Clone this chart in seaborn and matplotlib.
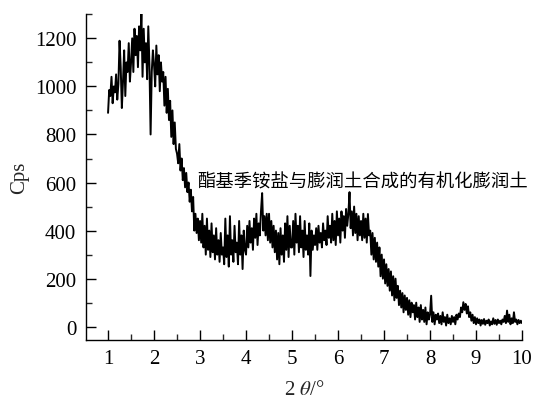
import numpy as np
import pandas as pd
import matplotlib
matplotlib.use("Agg")
import matplotlib.pyplot as plt
import seaborn as sns
from matplotlib.ticker import MultipleLocator

# 2theta grid: 1.0 .. 10.0 in steps of 0.025
two_theta_start = 1.0
two_theta_step = 0.025

cps_1_0 = [890, 985, 960, 1040, 930, 1000, 975, 1050, 945, 1010, 1190, 1080, 910, 1020, 1150, 960, 1100, 1060, 1180, 1020]
cps_1_5 = [1100, 1200, 1060, 1240, 1130, 1210, 1080, 1250, 1150, 1310, 1040, 1240, 1100, 1180, 1030, 1250, 1090, 800, 1060, 1150]
cps_2_0 = [1090, 1000, 1170, 1050, 1130, 980, 1100, 1020, 1060, 920, 1040, 890, 990, 860, 940, 790, 900, 760, 850, 740]
cps_2_5 = [720, 680, 760, 650, 700, 610, 660, 580, 640, 560, 600, 520, 570, 480, 540, 400, 470, 390, 450, 360]
cps_3_0 = [440, 350, 470, 330, 420, 300, 450, 320, 400, 290, 430, 310, 380, 280, 410, 300, 360, 270, 390, 300]
cps_3_5 = [330, 260, 450, 290, 380, 250, 460, 300, 360, 270, 420, 310, 350, 260, 440, 300, 380, 240, 400, 320]
cps_4_0 = [300, 420, 330, 440, 350, 410, 320, 450, 370, 470, 340, 430, 380, 480, 556, 400, 460, 380, 470, 360]
cps_4_5 = [470, 350, 440, 330, 420, 310, 400, 280, 390, 260, 410, 300, 380, 270, 430, 320, 460, 290, 420, 330]
cps_5_0 = [330, 440, 300, 470, 350, 420, 310, 460, 330, 400, 290, 440, 320, 380, 300, 430, 211, 400, 320, 380]
cps_5_5 = [340, 410, 320, 420, 350, 390, 330, 430, 360, 400, 340, 460, 370, 420, 350, 470, 360, 440, 340, 480]
cps_6_0 = [380, 450, 350, 480, 400, 460, 370, 490, 420, 470, 560, 410, 480, 380, 500, 390, 470, 360, 460, 380]
cps_6_5 = [440, 360, 470, 370, 450, 350, 469, 380, 400, 300, 390, 280, 370, 270, 350, 250, 330, 210, 300, 200]
cps_7_0 = [280, 180, 260, 170, 240, 150, 230, 130, 210, 110, 200, 120, 170, 90, 150, 80, 140, 60, 130, 70]
cps_7_5 = [120, 50, 110, 40, 100, 60, 90, 30, 100, 40, 80, 20, 90, 30, 70, 20, 80, 10, 60, 30]
cps_8_0 = [50, 129, 20, 60, 10, 50, 30, 55, 15, 45, 10, 60, 20, 40, 5, 50, 15, 35, 10, 45]
cps_8_5 = [20, 40, 10, 50, 30, 55, 40, 80, 60, 102, 70, 95, 55, 85, 40, 60, 25, 50, 15, 40]
cps_9_0 = [10, 35, 15, 30, 5, 28, 12, 32, 8, 25, 15, 30, 5, 22, 10, 35, 12, 28, 8, 30]
cps_9_5 = [15, 25, 10, 30, 20, 45, 15, 67, 20, 50, 10, 35, 15, 60, 20, 30, 10, 28, 15, 25]
cps_10_0 = [15]

x_ticks = [1, 2, 3, 4, 5, 6, 7, 8, 9, 10]
y_ticks = [0, 200, 400, 600, 800, 1000, 1200]
annotation = "酯基季铵盐与膨润土合成的有机化膨润土"
x_label = r"2 $\theta$/°"
y_label = "Cps"

cps = (cps_1_0 + cps_1_5 + cps_2_0 + cps_2_5 + cps_3_0 + cps_3_5 + cps_4_0 + cps_4_5
       + cps_5_0 + cps_5_5 + cps_6_0 + cps_6_5 + cps_7_0 + cps_7_5 + cps_8_0 + cps_8_5
       + cps_9_0 + cps_9_5 + cps_10_0)
two_theta = np.round(two_theta_start + two_theta_step * np.arange(len(cps)), 4)
df = pd.DataFrame({"two_theta": two_theta, "cps": cps})

sns.set_style("ticks")
plt.rcParams["font.family"] = ["Liberation Serif", "Noto Sans CJK SC"]
plt.rcParams["mathtext.fontset"] = "stix"

fig = plt.figure(figsize=(5.35, 4.02), dpi=100)
ax = fig.add_axes([0.1607, 0.1525, 0.815, 0.810])

sns.lineplot(data=df, x="two_theta", y="cps", color="black", linewidth=1.4, ax=ax)

ax.set_xlim(0.52, 10.0)
ax.set_ylim(-54, 1301)
ax.set_xticks(x_ticks)
ax.set_yticks(y_ticks)
ax.xaxis.set_minor_locator(MultipleLocator(0.5))
ax.yaxis.set_minor_locator(MultipleLocator(100))
ax.tick_params(which="major", direction="in", length=7.5, width=1.0, labelsize=15, pad=7, colors="black")
ax.tick_params(which="minor", direction="in", length=4, width=1.0)
for s in ["top", "right"]:
    ax.spines[s].set_visible(False)
for s in ["left", "bottom"]:
    ax.spines[s].set_linewidth(1.0)
    ax.spines[s].set_color("black")

ax.set_xlabel(x_label, fontsize=15, labelpad=8)
ax.set_ylabel(y_label, fontsize=15, labelpad=4)

ax.text(2.935, 606, annotation, fontsize=13.2, ha="left", va="center",
        family=["Noto Sans CJK SC", "DejaVu Sans"], color="black")

fig.savefig("out.png", dpi=100)
